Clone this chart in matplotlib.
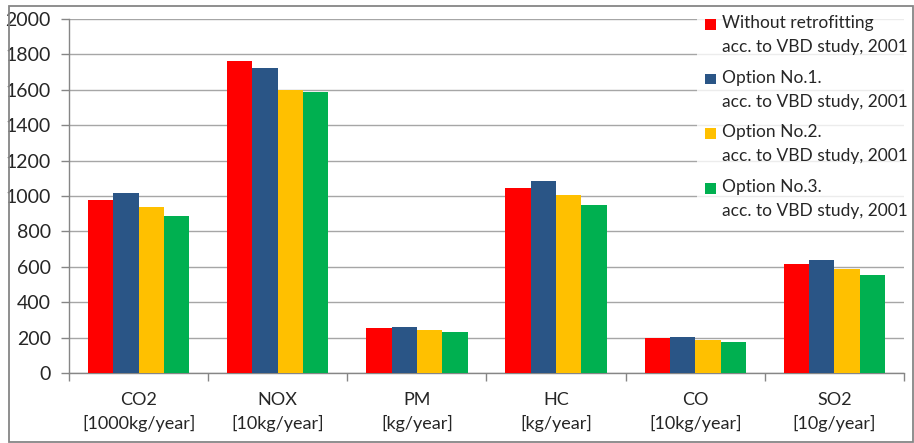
import matplotlib
matplotlib.use("Agg")
import matplotlib.pyplot as plt
from matplotlib.patches import Rectangle
from matplotlib.legend_handler import HandlerPatch
import numpy as np

categories = ["CO2\n[1000kg/year]", "NOX\n[10kg/year]", "PM\n[kg/year]",
              "HC\n[kg/year]", "CO\n[10kg/year]", "SO2\n[10g/year]"]
series_names = ["Without retrofitting\nacc. to VBD study, 2001",
                "Option No.1.\nacc. to VBD study, 2001",
                "Option No.2.\nacc. to VBD study, 2001",
                "Option No.3.\nacc. to VBD study, 2001"]
without_retrofit = [980, 1760, 256, 1047, 200, 616]
option_1 = [1017, 1723, 260, 1084, 205, 637]
option_2 = [940, 1598, 245, 1006, 188, 590]
option_3 = [887, 1589, 230, 948, 176, 554]
colors = ["#FF0000", "#2A5586", "#FFC000", "#00B050"]

plt.rcParams["font.family"] = ["Lato", "DejaVu Sans"]
FS = 13
LFS = 12.5

fig = plt.figure(figsize=(9.14, 4.43), dpi=100)
fig.patches.append(Rectangle((8.5 / 914, 1 - 441.5 / 443), 904 / 914, 436 / 443,
                             transform=fig.transFigure, fill=False,
                             edgecolor="#868686", linewidth=1.3))

ax = fig.add_axes([69 / 914, 1 - 373 / 443, (904 - 69) / 914, (373 - 19) / 443])

x = np.arange(len(categories))
n = 4
group = 0.727
bw = group / n
all_series = [without_retrofit, option_1, option_2, option_3]
containers = []
for i, (vals, c, name) in enumerate(zip(all_series, colors, series_names)):
    containers.append(ax.bar(x - group / 2 + bw * (i + 0.5), vals, width=bw, color=c,
                             label=name, zorder=3, linewidth=0))

ax.set_xlim(-0.5, len(categories) - 0.5)
ax.set_ylim(0, 2000)
ax.set_yticks(np.arange(0, 2001, 200))
ax.yaxis.grid(True, color="#A6A6A6", linewidth=1.0, zorder=0)
ax.set_axisbelow(True)

ax.set_xticks(x)
ax.set_xticklabels(categories, fontsize=FS, color="#262626", linespacing=1.45)
ax.set_xticks(np.arange(-0.5, len(categories)), minor=True)
ax.tick_params(axis="x", which="major", length=0, pad=14)
ax.tick_params(axis="x", which="minor", length=6, color="#868686", width=1)
ax.tick_params(axis="y", length=6, color="#868686", width=1, labelsize=FS + 1,
               labelcolor="#262626", pad=7)

for s in ["top", "right"]:
    ax.spines[s].set_visible(False)
for s in ["left", "bottom"]:
    ax.spines[s].set_color("#868686")
    ax.spines[s].set_linewidth(1.0)


def top_square(legend, orig_handle, xdescent, ydescent, width, height, fontsize):
    # square marker sitting beside the first line of a two-line label
    side = 0.62 * fontsize
    shift = 0.64 * fontsize
    return Rectangle((-xdescent + (width - side), -ydescent + (height - side) / 2 + shift),
                     side, side)


handles = [b.patches[0] for b in containers]
leg = ax.legend(handles, series_names, loc="upper left",
                bbox_to_anchor=(697 / 914, 1 - 10 / 443),
                bbox_transform=fig.transFigure, frameon=True, fontsize=LFS,
                handlelength=0.8, handleheight=0.8, handletextpad=0.35,
                labelspacing=0.85, borderaxespad=0, borderpad=0.3,
                fancybox=False,
                handler_map={Rectangle: HandlerPatch(patch_func=top_square)})
leg.get_frame().set_facecolor("white")
leg.get_frame().set_edgecolor("none")
leg.set_zorder(10)
for t in leg.get_texts():
    t.set_color("#262626")
    t.set_linespacing(1.6)

fig.savefig("out.png", dpi=100)
